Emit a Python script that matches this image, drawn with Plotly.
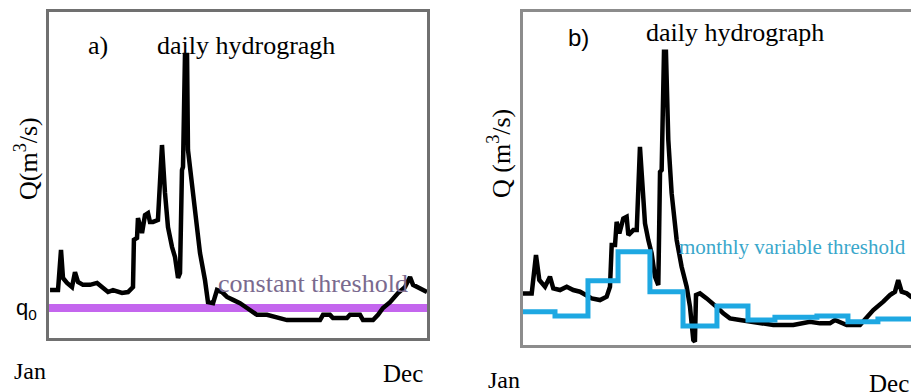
import plotly.graph_objects as go

# ---------------- data (day of year, discharge in arbitrary units) ----------------
a_days = [1, 8.7, 11.6, 13.5, 17.4, 22.2, 25.1, 28.0, 32.8, 39.6, 46.4, 52.1, 57.0, 61.8,
          70.5, 76.3, 81.1, 82.0, 85.0, 85.9, 89.8, 92.7, 95.6, 97.5, 100.4, 105.2, 109.1,
          112.0, 114.9, 118.8, 121.7, 124.6, 126.5, 128.4, 129.4, 131.3, 133.3, 134.2,
          138.1, 142.9, 145.8, 150.6, 153.5, 158.4, 162.2, 167.1, 171.9, 177.7, 184.4,
          191.2, 200.8, 210.5, 220.2, 229.8, 242.4, 261.7, 264.6, 271.3, 274.2, 287.7,
          290.6, 300.3, 303.2, 312.9, 317.7, 322.5, 329.3, 337.0, 343.7, 348.6, 351.5,
          358.2, 365]
a_flow = [14.7, 14.7, 27.0, 18.4, 16.9, 15.6, 20.2, 17.2, 16.3, 16.3, 16.9, 15.6, 14.1, 14.7,
          13.8, 14.1, 15.6, 30.1, 30.7, 36.8, 32.2, 37.7, 38.3, 35.6, 35.6, 36.2, 59.2,
          44.5, 34.0, 27.9, 24.8, 18.4, 19.9, 51.5, 52.5, 86.8, 86.8, 57.7,
          47.5, 32.2, 26.1, 17.8, 11.0, 10.7, 14.7, 14.1, 12.6, 11.7, 10.7,
          9.2, 7.1, 7.1, 6.4, 5.5, 5.5, 5.5, 7.1, 7.1, 6.1, 6.1,
          7.1, 7.1, 5.5, 5.5, 7.1, 9.2, 11.0, 13.8, 15.6, 18.7, 16.3,
          15.3, 14.1]
q0 = 9.2

b_days = [0, 8.1, 12.1, 15.2, 20.5, 25.1, 28.2, 34.5, 40.7, 46.8, 53.1, 57.7, 64.0, 71.7,
          77.9, 81.0, 82.6, 85.7, 87.2, 89.7, 93.4, 96.5, 98.1, 102.7, 105.9, 108.9, 111.5,
          113.6, 116.7, 119.8, 122.9, 126.0, 127.6, 129.1, 131.3, 133.1, 135.3, 138.4,
          143.1, 147.7, 152.4, 155.5, 158.6, 160.1, 161.1, 164.8, 171.0, 177.2, 181.8,
          186.5, 192.7, 202.0, 211.4, 220.7, 233.1, 251.7, 261.0, 267.2, 276.5, 285.8,
          290.5, 295.2, 301.4, 313.8, 320.0, 326.2, 335.5, 341.7, 346.4, 349.4, 352.6,
          357.3, 361.3, 365]
b_flow = [15.5, 15.5, 27.0, 19.5, 17.5, 20.5, 17.0, 16.5, 17.5, 16.5, 16.0, 15.0, 14.0, 13.5,
          14.5, 17.5, 30.0, 30.0, 37.0, 33.5, 38.0, 38.5, 33.0, 34.5, 34.5, 59.5, 47.5,
          36.5, 31.5, 27.5, 20.5, 18.0, 52.0, 52.5, 88.1, 88.1, 61.6, 45.6,
          31.5, 23.5, 17.5, 11.5, 1.5, 1.0, 15.0, 15.5, 14.0, 12.5, 11.0,
          9.5, 8.0, 7.5, 7.0, 6.5, 6.0, 6.0, 6.5, 7.0, 6.5, 6.5,
          7.5, 7.0, 6.0, 6.0, 8.5, 10.5, 13.0, 15.0, 16.0, 19.5, 16.0,
          15.5, 14.5, 14.0]

month_start_days = [0, 29.8, 60.5, 88.5, 118.2, 149.0, 180.6, 209.5, 234.6, 273.7, 302.6, 330.5, 365]
monthly_threshold = [10.0, 8.7, 19.3, 28.0, 16.0, 5.7, 11.7, 7.5, 8.3, 8.7, 7.0, 7.8, 7.8]

# ---------------- layout helpers ----------------
W, H = 911, 392
def px(x):
    return x / W
def py(y):
    return 1 - y / H

SERIF = "Liberation Serif, Times New Roman, serif"
SANS = "Liberation Sans, Arial, sans-serif"

fig = go.Figure()

fig.add_trace(go.Scatter(x=[-2, 367], y=[q0, q0], mode="lines",
                         line=dict(color="#c466ee", width=8), xaxis="x", yaxis="y",
                         hoverinfo="skip", cliponaxis=False))
fig.add_trace(go.Scatter(x=a_days, y=a_flow, mode="lines",
                         line=dict(color="black", width=4.5), xaxis="x", yaxis="y"))

fig.add_trace(go.Scatter(x=b_days, y=b_flow, mode="lines",
                         line=dict(color="black", width=4.5), xaxis="x2", yaxis="y2"))
fig.add_trace(go.Scatter(x=month_start_days, y=monthly_threshold, mode="lines",
                         line=dict(color="#1ea8e2", width=5, shape="hv"),
                         xaxis="x2", yaxis="y2"))

frame_a = dict(showline=True, linecolor="#707070", linewidth=3, mirror=True,
               showgrid=False, zeroline=False, showticklabels=False, ticks="")
frame_b = dict(showline=True, linecolor="#8c8c8c", linewidth=3,
               showgrid=False, zeroline=False, showticklabels=False, ticks="")

fig.update_layout(
    width=W, height=H,
    margin=dict(l=0, r=0, t=0, b=0),
    paper_bgcolor="white", plot_bgcolor="white",
    showlegend=False,
    xaxis=dict(domain=[px(49), px(427)], range=[0, 365], **frame_a),
    yaxis=dict(domain=[py(338), py(12)], range=[0, 100], **frame_a),
    xaxis2=dict(domain=[px(523), 1.0], range=[0, 361.3], mirror=True, anchor="y2", **frame_b),
    yaxis2=dict(domain=[py(345), py(12)], range=[0, 100], mirror=False, anchor="x2", **frame_b),
)

def note(text, x, y, size, family=SERIF, color="black", xanchor="left", angle=0):
    fig.add_annotation(text=text, x=px(x), y=py(y), xref="paper", yref="paper",
                       xanchor=xanchor, yanchor="middle", showarrow=False,
                       textangle=angle, font=dict(family=family, size=size, color=color))

# panel a
note("a)", 86, 46, 26)
note("daily hydrogragh", 155, 46, 26)
note("constant threshold", 216, 283, 26, color="#7a6a8e")
note("q<sub>0</sub>", 26, 309, 22, family=SANS, xanchor="center")
note("Q(m<sup>3</sup>/s)", 27, 159, 26, xanchor="center", angle=-90)
note("Jan", 12, 371, 24)
note("Dec", 381, 373, 25)

# panel b
note("b)", 566, 38, 24, family=SANS)
note("daily hydrograph", 644, 33, 26)
note("monthly variable threshold", 677, 247, 21, color="#3aa7cb")
note("Q (m<sup>3</sup>/s)", 500, 154, 26, xanchor="center", angle=-90)
note("Jan", 486, 380, 24)
note("Dec", 867, 383, 25)

fig.write_html("out.html", config={"displayModeBar": False},
               post_script="document.body.style.margin='0px';document.body.style.overflow='hidden';")
